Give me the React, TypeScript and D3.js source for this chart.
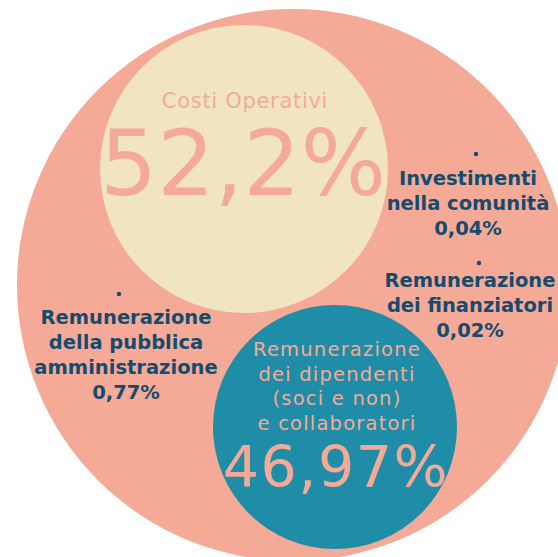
import React from "react";
import * as d3 from "d3";

const categories = [
  "Costi Operativi",
  "Remunerazione dei dipendenti (soci e non) e collaboratori",
  "Remunerazione della pubblica amministrazione",
  "Investimenti nella comunità",
  "Remunerazione dei finanziatori",
];
const values = [52.2, 46.97, 0.77, 0.04, 0.02];
const valueLabels = ["52,2%", "46,97%", "0,77%", "0,04%", "0,02%"];
const labelLines = [
  ["Costi Operativi"],
  ["Remunerazione", "dei dipendenti", "(soci e non)", "e collaboratori"],
  ["Remunerazione", "della pubblica", "amministrazione"],
  ["Investimenti", "nella comunità"],
  ["Remunerazione", "dei finanziatori"],
];
const total = 100;

const W = 558;
const H = 557;
const SALMON = "#F5AA97";
const BEIGE = "#F0E5C0";
const TEAL = "#208DA8";
const NAVY = "#154B6D";
const FONT = "'DejaVu Sans', sans-serif";

export default function App() {
  // radius scale for the two big circles; tiny shares are shown as dots
  const big = values.filter((v) => v > 10);
  const rScale = d3
    .scaleLinear()
    .domain([d3.min(big) as number, d3.max(big) as number])
    .range([122, 144]);
  const bgScale = d3.scaleLinear().domain([0, total]).range([0, 276]);

  const bg = { cx: 293, cy: 285, r: bgScale(total) };
  const c0 = { cx: 244, cy: 169, r: rScale(values[0]) };
  const c1 = { cx: 335, cy: 427, r: rScale(values[1]) };

  const smallPos = [
    { i: 2, cx: 126, dotX: 119, dotY: 294, y0: 324 },
    { i: 3, cx: 468, dotX: 476, dotY: 154, y0: 185 },
    { i: 4, cx: 470, dotX: 479, dotY: 263, y0: 287 },
  ];
  const lh = 25;

  return (
    <svg
      width={W}
      height={H}
      style={{ position: "absolute", left: 0, top: 0, background: "#fff" }}
    >
      <circle cx={bg.cx} cy={bg.cy} r={bg.r} fill={SALMON} />
      <circle cx={c0.cx} cy={c0.cy} r={c0.r} fill={BEIGE} />
      <circle cx={c1.cx} cy={c1.cy} r={c1.r} fill={TEAL} />

      {/* Costi Operativi */}
      <text
        x={245}
        y={108}
        textAnchor="middle"
        fill={SALMON}
        fontFamily={FONT}
        fontSize={21}
        letterSpacing={0.7}
      >
        {labelLines[0][0]}
      </text>
      <text
        x={243}
        y={195}
        textAnchor="middle"
        fill={SALMON}
        fontFamily={FONT}
        fontSize={90}
      >
        {valueLabels[0]}
      </text>

      {/* Dipendenti */}
      {labelLines[1].map((s, k) => (
        <text
          key={k}
          x={337}
          y={356 + k * 24.7}
          textAnchor="middle"
          fill={SALMON}
          fontFamily={FONT}
          fontSize={19.5}
          letterSpacing={1.2}
        >
          {s}
        </text>
      ))}
      <text
        x={336}
        y={487}
        textAnchor="middle"
        fill={SALMON}
        fontFamily={FONT}
        fontSize={57}
        letterSpacing={1.5}
      >
        {valueLabels[1]}
      </text>

      {/* small shares */}
      {smallPos.map((p) => (
        <g key={p.i}>
          <circle cx={p.dotX} cy={p.dotY} r={2.2} fill={NAVY} />
          {[...labelLines[p.i], valueLabels[p.i]].map((s, k) => (
            <text
              key={k}
              x={p.cx}
              y={p.y0 + k * lh}
              textAnchor="middle"
              fill={NAVY}
              fontFamily={FONT}
              fontWeight="bold"
              fontSize={19.5}
            >
              {s}
            </text>
          ))}
        </g>
      ))}
    </svg>
  );
}
